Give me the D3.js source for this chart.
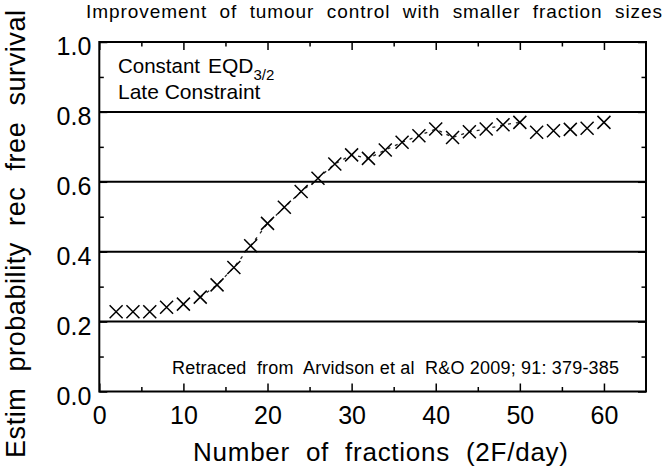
<!DOCTYPE html>
<html>
<head>
<meta charset="utf-8">
<script src="https://cdn.jsdelivr.net/npm/d3@7/dist/d3.min.js"></script>
<style>
  html, body { margin: 0; padding: 0; background: #fff; }
  svg { display: block; }
  svg text { font-family: "Liberation Sans", Arial, Helvetica, sans-serif; white-space: pre; }
</style>
</head>
<body>
<svg id="chart" width="664" height="469"></svg>
<script>
// ---- data ----
const fractions = [2,4,6,8,10,12,14,16,18,20,22,24,26,28,30,32,34,36,38,40,42,44,46,48,50,52,54,56,58,60];
const survival  = [0.228,0.228,0.228,0.241,0.250,0.270,0.305,0.355,0.417,0.481,0.527,0.572,0.610,0.651,0.677,0.667,0.691,0.713,0.732,0.751,0.727,0.743,0.751,0.763,0.770,0.742,0.746,0.750,0.753,0.770];
const xTicks = [0,10,20,30,40,50,60];
const xMinorTicks = [5,15,25,35,45,55];
const yTicks = [0.0,0.2,0.4,0.6,0.8,1.0];
const yMinorTicks = [0.1,0.3,0.5,0.7,0.9];
const gridValues = [0.2,0.4,0.6,0.8];
const titleText = "Improvement  of  tumour  control  with  smaller  fraction  sizes";
const xLabel = "Number  of  fractions  (2F/day)";
const yLabel = "Estim  probability  rec  free  survival";
const note1a = "Constant";
const note1b = "EQD";
const note1Sub = "3/2";
const note2 = "Late Constraint";
const note3 = "Retraced  from  Arvidson et al  R&O 2009; 91: 379-385";

// ---- layout ----
const FONT = "'Liberation Sans', Arial, Helvetica, sans-serif";
const L = 99.3, R = 646, T = 42, B = 391.5;
const svg = d3.select("#chart");
const x = d3.scaleLinear().domain([0, 65]).range([L, R]);
const y = d3.scaleLinear().domain([0, 1]).range([B, T]);

// grid lines
svg.append("g").selectAll("line").data(gridValues).join("line")
  .attr("x1", L).attr("x2", R)
  .attr("y1", d => y(d)).attr("y2", d => y(d))
  .attr("stroke", "#000").attr("stroke-width", 2);

// axes
function styleAxis(g) {
  g.attr("font-family", FONT);
  g.select(".domain").remove();
  g.selectAll(".tick line").attr("stroke", "#000").attr("stroke-width", 1.5);
  g.selectAll(".tick text").attr("fill", "#000").attr("font-size", 25).attr("font-family", FONT);
}
svg.append("g").attr("transform", `translate(0,${B})`)
  .call(d3.axisBottom(x).tickValues(xTicks).tickSize(-8).tickPadding(14.5).tickFormat(d3.format("d")))
  .call(styleAxis);
svg.append("g").attr("transform", `translate(0,${B})`)
  .call(d3.axisBottom(x).tickValues(xMinorTicks).tickSize(-4.5).tickFormat(""))
  .call(styleAxis);
svg.append("g").attr("transform", `translate(0,${T})`)
  .call(d3.axisTop(x).tickValues(xTicks).tickSize(-8).tickFormat(""))
  .call(styleAxis);
svg.append("g").attr("transform", `translate(0,${T})`)
  .call(d3.axisTop(x).tickValues(xMinorTicks).tickSize(-4.5).tickFormat(""))
  .call(styleAxis);
const yl = svg.append("g").attr("transform", `translate(${L},0)`)
  .call(d3.axisLeft(y).tickValues(yTicks).tickSize(-8).tickPadding(8).tickFormat(d3.format(".1f")))
  .call(styleAxis);
yl.selectAll(".tick text").attr("dy", "0.5em");
svg.append("g").attr("transform", `translate(${L},0)`)
  .call(d3.axisLeft(y).tickValues(yMinorTicks).tickSize(-4.5).tickFormat(""))
  .call(styleAxis);
svg.append("g").attr("transform", `translate(${R},0)`)
  .call(d3.axisRight(y).tickValues(yTicks).tickSize(-8).tickFormat(""))
  .call(styleAxis);
svg.append("g").attr("transform", `translate(${R},0)`)
  .call(d3.axisRight(y).tickValues(yMinorTicks).tickSize(-4.5).tickFormat(""))
  .call(styleAxis);

// frame
svg.append("rect").attr("x", L).attr("y", T).attr("width", R - L).attr("height", B - T)
  .attr("fill", "none").attr("stroke", "#000").attr("stroke-width", 2);

// faint dashed trace through the middle points
const pts = fractions.map((f, i) => [f, survival[i]]);
svg.append("path")
  .datum(pts.filter(p => p[0] >= 12 && p[0] <= 50))
  .attr("d", d3.line().x(p => x(p[0])).y(p => y(p[1])))
  .attr("fill", "none").attr("stroke", "#222").attr("stroke-width", 1.3)
  .attr("stroke-dasharray", "3,5");

// X markers
const s = 6.5;
svg.append("g").selectAll("path").data(pts).join("path")
  .attr("d", p => {
    const cx = x(p[0]), cy = y(p[1]);
    return `M${cx - s},${cy - s}L${cx + s},${cy + s}M${cx - s},${cy + s}L${cx + s},${cy - s}`;
  })
  .attr("stroke", "#000").attr("stroke-width", 1.5).attr("fill", "none");

// title
svg.append("text").attr("x", 86).attr("y", 17.5).attr("font-family", FONT)
  .attr("font-size", 19).attr("textLength", 576).attr("lengthAdjust", "spacing")
  .text(titleText);

// axis labels
svg.append("text").attr("x", 193).attr("y", 461).attr("font-family", FONT)
  .attr("font-size", 26).attr("textLength", 375).attr("lengthAdjust", "spacing")
  .text(xLabel);
svg.append("text").attr("font-family", FONT)
  .attr("transform", "translate(25,458) rotate(-90)")
  .attr("font-size", 27).attr("textLength", 448).attr("lengthAdjust", "spacing")
  .text(yLabel);

// notes
svg.append("text").attr("x", 118).attr("y", 72.7).attr("font-size", 20.5).attr("font-family", FONT)
  .text(note1a);
const eqd = svg.append("text").attr("x", 208).attr("y", 72.7).attr("font-size", 21).attr("font-family", FONT);
eqd.append("tspan").text(note1b);
eqd.append("tspan").attr("font-size", 15).attr("dy", 7).text(note1Sub);
svg.append("text").attr("x", 118).attr("y", 99).attr("font-size", 21).attr("font-family", FONT).text(note2);
svg.append("text").attr("x", 172).attr("y", 374).attr("font-family", FONT)
  .attr("font-size", 18).attr("textLength", 447).attr("lengthAdjust", "spacing")
  .text(note3);
</script>
</body>
</html>
